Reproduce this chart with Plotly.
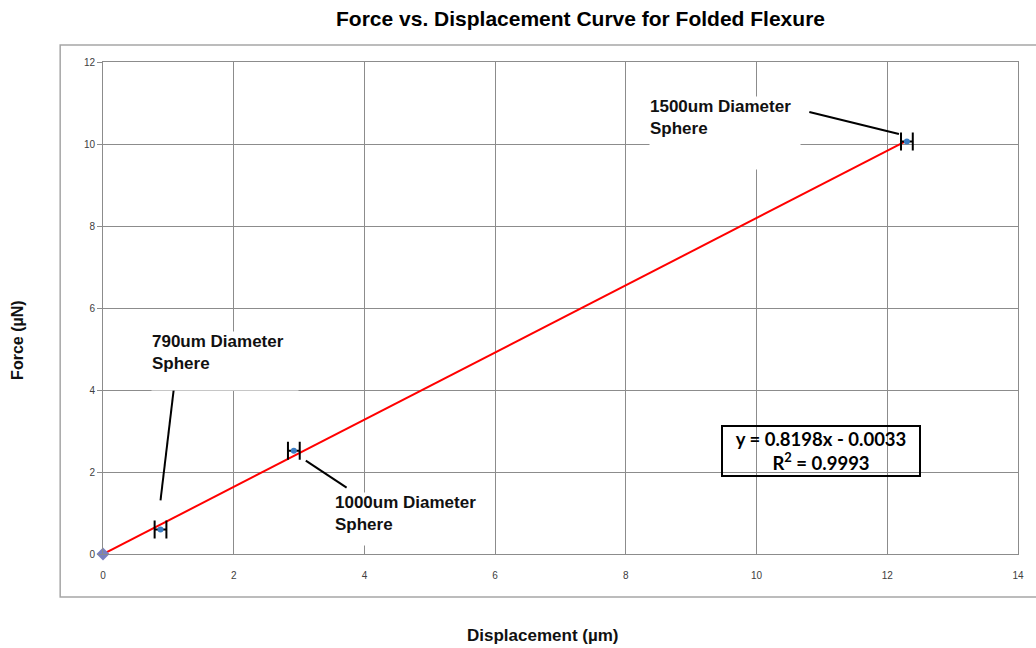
import plotly.graph_objects as go

# Measured points (sphere size, displacement in µm, force in µN)
sphere_labels = ["790um Diameter<br>Sphere", "1000um Diameter<br>Sphere", "1500um Diameter<br>Sphere"]
displacement = [0.88, 2.92, 12.30]
force = [0.60, 2.52, 10.06]
disp_err = [0.09, 0.09, 0.09]

# Origin point of the series
origin_x = [0.0]
origin_y = [0.0]

# Linear fit through the data
fit_slope = 0.8198
fit_intercept = -0.0033
fit_r2 = 0.9993
fit_x = [0.0, displacement[-1]]
fit_y = [fit_slope * v + fit_intercept for v in fit_x]

x_ticks = [0, 2, 4, 6, 8, 10, 12, 14]
y_ticks = [0, 2, 4, 6, 8, 10, 12]

X_RANGE = [0, 14]
Y_RANGE = [0, 12]
MARGIN = dict(l=103, r=14, t=62, b=94)
W, H = 1036, 648
plot_w = W - MARGIN["l"] - MARGIN["r"]
plot_h = H - MARGIN["t"] - MARGIN["b"]
px_per_x = plot_w / (X_RANGE[1] - X_RANGE[0])
px_per_y = plot_h / (Y_RANGE[1] - Y_RANGE[0])

fig = go.Figure()

fig.add_trace(go.Scatter(
    x=fit_x, y=fit_y, mode="lines",
    line=dict(color="#ff0000", width=2), hoverinfo="skip", showlegend=False,
))

fig.add_trace(go.Scatter(
    x=origin_x, y=origin_y, mode="markers", cliponaxis=False,
    marker=dict(symbol="diamond", size=10, color="#7a80c0"), showlegend=False,
))

fig.add_trace(go.Scatter(
    x=displacement, y=force, mode="markers",
    marker=dict(symbol="circle", size=6, color="#3a7dc4"),
    error_x=dict(type="data", array=disp_err, visible=True,
                 color="#000000", thickness=2, width=9),
    showlegend=False,
))

grid = "#8c8c8c"
tick_font = dict(family="Liberation Sans, Arial, sans-serif", size=10, color="#404040")

fig.update_xaxes(
    range=X_RANGE, tickvals=x_ticks, ticktext=[str(t) for t in x_ticks],
    showgrid=True, gridcolor=grid, gridwidth=1,
    showline=True, linecolor=grid, linewidth=1, mirror=True,
    zeroline=False, ticks="", ticklabelstandoff=12, tickfont=tick_font,
)
fig.update_yaxes(
    range=Y_RANGE, tickvals=y_ticks, ticktext=[str(t) for t in y_ticks],
    showgrid=True, gridcolor=grid, gridwidth=1,
    showline=True, linecolor=grid, linewidth=1, mirror=True,
    zeroline=False, ticks="outside", ticklen=5, tickcolor=grid,
    tickfont=tick_font,
)

label_font = dict(family="Liberation Sans, Arial, sans-serif", size=17, color="#111111")

# Label boxes: (left x, top y) in data units, (width, height) in pixels
label_boxes = [
    (0.74, 5.44, 146, 58),
    (3.53, 1.51, 152, 52),
    (8.36, 11.17, 150, 72),
]
for text, (bx, by, bw, bh) in zip(sphere_labels, label_boxes):
    fig.add_annotation(
        x=bx, y=by, xref="x", yref="y", text="<b>" + text + "</b>",
        showarrow=False, xanchor="left", yanchor="top",
        align="left", valign="top", width=bw, height=bh,
        bgcolor="#ffffff", borderpad=0, font=label_font,
    )

# Leader lines from each label toward its point: pixel offsets (start, end) from the point
leaders = [((14, -146), (0, -29)), ((12, 10), (53, 37)), ((-8, -7.5), (-98, -29.5))]
for px, py, ((sx, sy), (ex, ey)) in zip(displacement, force, leaders):
    fig.add_shape(
        type="line", xref="x", yref="y",
        x0=px + sx / px_per_x, y0=py - sy / px_per_y,
        x1=px + ex / px_per_x, y1=py - ey / px_per_y,
        line=dict(color="#000000", width=2), layer="above",
    )

# Trendline equation box
fig.add_annotation(
    x=0.785, y=0.209, xref="paper", yref="paper",
    text=f"<b>y = {fit_slope:.4f}x - {abs(fit_intercept):.4f}<br>R<sup>2</sup> = {fit_r2:.4f}</b>",
    showarrow=False, xanchor="center", yanchor="middle",
    width=196, height=48, align="center",
    bordercolor="#000000", borderwidth=2, borderpad=0,
    font=dict(family="Lato, Carlito, sans-serif", size=18.5, color="#000000"),
)

# Chart title and axis titles
fig.add_annotation(
    x=0.522, y=1.089, xref="paper", yref="paper",
    text="<b>Force vs. Displacement Curve for Folded Flexure</b>",
    showarrow=False, xanchor="center", yanchor="middle",
    font=dict(family="Liberation Sans, Arial, sans-serif", size=21, color="#000000"),
)
fig.add_annotation(
    x=0.481, y=-0.165, xref="paper", yref="paper",
    text="<b>Displacement (µm)</b>",
    showarrow=False, xanchor="center", yanchor="middle",
    font=dict(family="Liberation Sans, Arial, sans-serif", size=17, color="#111111"),
)
fig.add_annotation(
    x=-0.093, y=0.435, xref="paper", yref="paper",
    text="<b>Force (µN)</b>", textangle=-90,
    showarrow=False, xanchor="center", yanchor="middle",
    font=dict(family="Liberation Sans, Arial, sans-serif", size=16, color="#111111"),
)

# Outer chart frame
fig.add_shape(
    type="rect", xref="paper", yref="paper",
    x0=-0.0468, x1=1.03, y0=-0.0874, y1=1.0346,
    line=dict(color="#a6a6a6", width=1.5), fillcolor="rgba(0,0,0,0)", layer="below",
)

fig.update_layout(
    width=W, height=H,
    margin=MARGIN,
    paper_bgcolor="#ffffff", plot_bgcolor="#ffffff",
    showlegend=False,
)

fig.write_html("out.html")
